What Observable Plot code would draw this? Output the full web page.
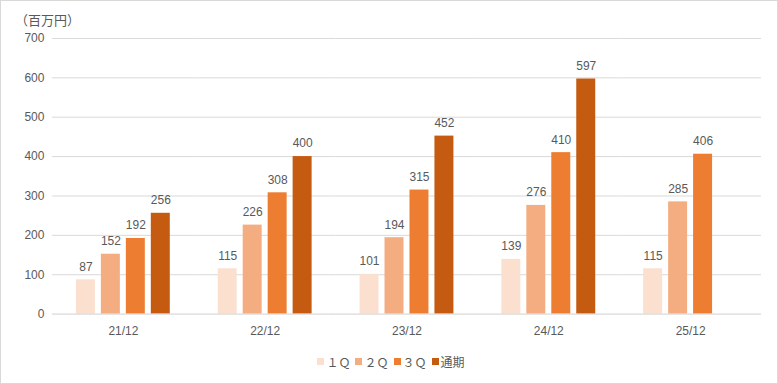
<!DOCTYPE html>
<html>
<head>
<meta charset="utf-8">
<script src="https://cdn.jsdelivr.net/npm/d3@7"></script>
<script src="https://cdn.jsdelivr.net/npm/@observablehq/plot@0.6"></script>
<style>
  html, body { margin: 0; padding: 0; background: #fff; }
  #wrap { position: relative; width: 778px; height: 384px; box-sizing: border-box; border: 1px solid #d9d9d9; overflow: hidden; font-family: "Liberation Sans", "Noto Sans CJK JP", sans-serif; }
  #chart { position: absolute; left: -1px; top: -1px; }
  #unit { position: absolute; left: 14px; top: 9px; font-size: 13px; color: #595959; font-family: "Noto Sans CJK JP", sans-serif; }
  #legend { position: absolute; left: 0; right: 0; top: 352px; display: flex; justify-content: center; gap: 5px; font-size: 12px; color: #595959; padding-left: 4px; }
  .item { display: flex; align-items: center; gap: 2px; }
  .sw { width: 7px; height: 7px; display: inline-block; }
  .lab { font-family: "Noto Sans CJK JP", sans-serif; }
</style>
</head>
<body>
<div id="wrap">
  <div id="chart"></div>
  <div id="unit">（百万円）</div>
  <div id="legend"></div>
</div>
<script>
const years = ["21/12", "22/12", "23/12", "24/12", "25/12"];
const series = ["１Ｑ", "２Ｑ", "３Ｑ", "通期"];
const q1 = [87, 115, 101, 139, 115];
const q2 = [152, 226, 194, 276, 285];
const q3 = [192, 308, 315, 410, 406];
const fullYear = [256, 400, 452, 597, null];
const yTicks = [0, 100, 200, 300, 400, 500, 600, 700];
const colors = ["#FBE0D0", "#F4AD80", "#ED7D31", "#C55A11"];

const valuesBySeries = [q1, q2, q3, fullYear];
const rows = [];
years.forEach((yr, i) => {
  series.forEach((s, j) => {
    const v = valuesBySeries[j][i];
    if (v != null) rows.push({year: yr, series: s, value: v});
  });
});

const chart = Plot.plot({
  width: 778,
  height: 384,
  marginTop: 38,
  marginBottom: 70,
  marginLeft: 52,
  marginRight: 16,
  style: {fontFamily: '"Liberation Sans", "Noto Sans CJK JP", sans-serif', fontSize: "12px", color: "#595959", background: "transparent"},
  facet: {data: rows, x: "year"},
  fx: {domain: years, padding: 0, label: null, tickSize: 0, tickPadding: 12},
  x: {domain: series, paddingInner: 0.225, paddingOuter: 0.865, axis: null},
  y: {domain: [0, 700], ticks: yTicks, label: null, tickSize: 0, tickPadding: 8},
  color: {domain: series, range: colors},
  marks: [
    Plot.ruleY(yTicks.slice(1), {stroke: "#d9d9d9", strokeWidth: 1}),
    Plot.barY(rows, {x: "series", y: "value", fill: "series"}),
    Plot.text(rows, {x: "series", y: "value", text: d => String(d.value), dy: -13, fill: "#595959", fontSize: 12}),
    Plot.ruleY([0], {stroke: "#d0d0d0", strokeWidth: 1})
  ]
});
document.getElementById("chart").appendChild(chart);

const legend = document.getElementById("legend");
series.forEach((s, i) => {
  const it = document.createElement("div");
  it.className = "item";
  const sw = document.createElement("span");
  sw.className = "sw";
  sw.style.background = colors[i];
  const lab = document.createElement("span");
  lab.className = "lab";
  lab.textContent = s;
  it.appendChild(sw);
  it.appendChild(lab);
  legend.appendChild(it);
});
</script>
</body>
</html>
